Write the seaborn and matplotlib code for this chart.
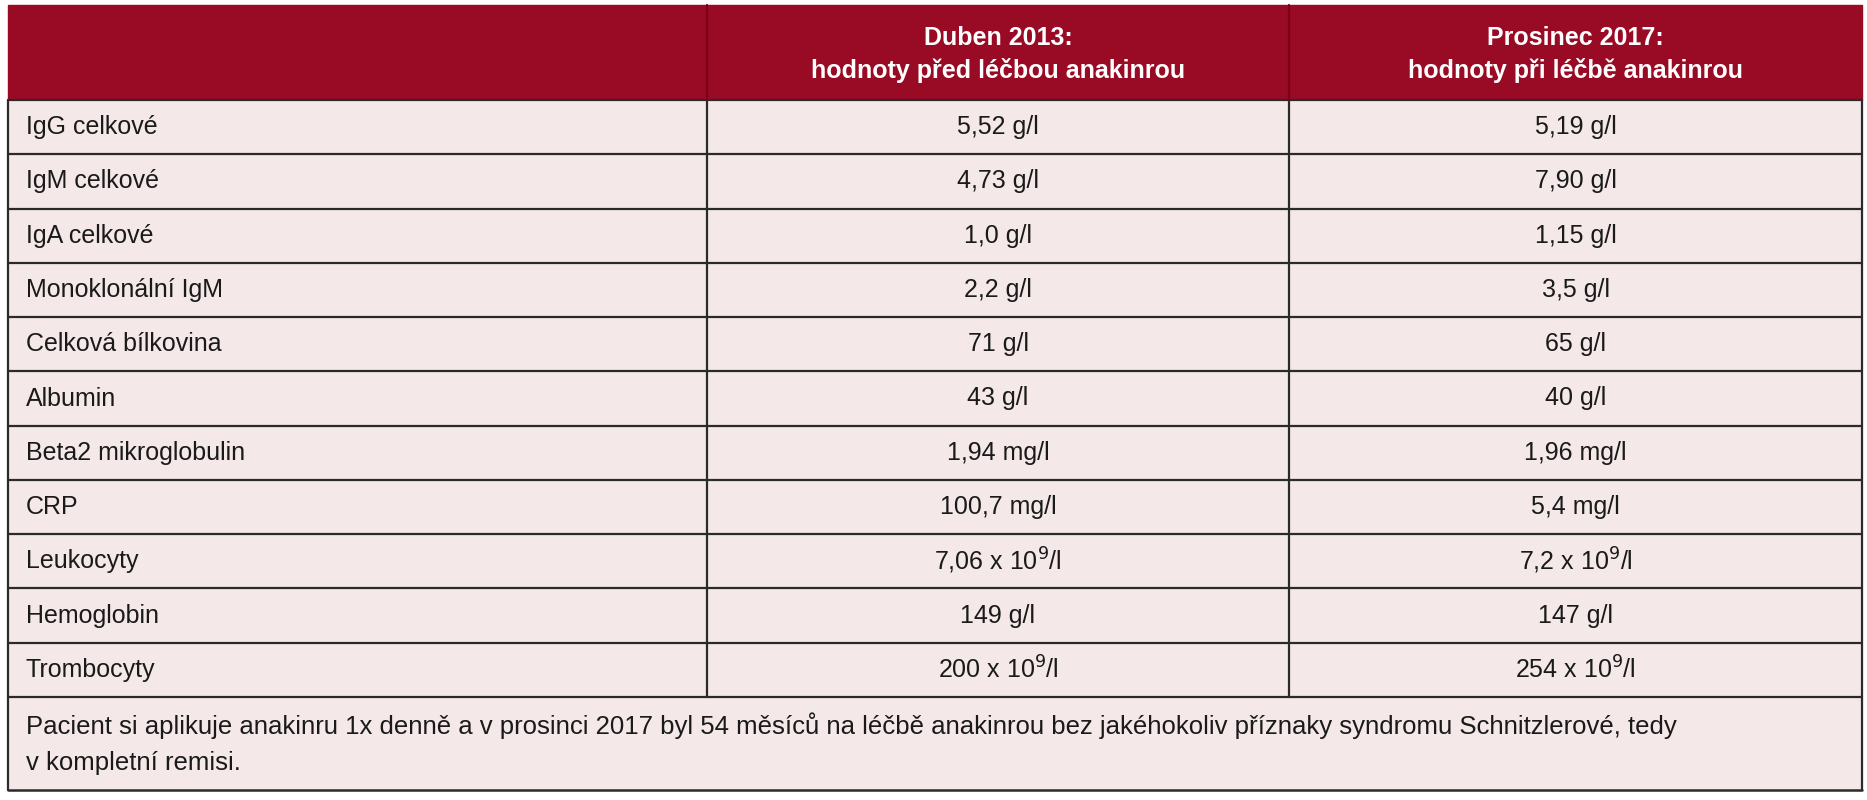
import matplotlib
matplotlib.use("Agg")
import matplotlib.pyplot as plt
import seaborn as sns
from matplotlib.patches import Rectangle

sns.set_theme(style="white")
plt.rcParams['font.family'] = ['Liberation Sans Narrow', 'Liberation Sans', 'DejaVu Sans']

headers = ["", "Duben 2013:\nhodnoty před léčbou anakinrou", "Prosinec 2017:\nhodnoty při léčbě anakinrou"]
parameters = ["IgG celkové", "IgM celkové", "IgA celkové", "Monoklonální IgM", "Celková bílkovina",
              "Albumin", "Beta2 mikroglobulin", "CRP", "Leukocyty", "Hemoglobin", "Trombocyty"]
values_2013 = ["5,52 g/l", "4,73 g/l", "1,0 g/l", "2,2 g/l", "71 g/l", "43 g/l", "1,94 mg/l",
               "100,7 mg/l", "7,06 x 10$^9$/l", "149 g/l", "200 x 10$^9$/l"]
values_2017 = ["5,19 g/l", "7,90 g/l", "1,15 g/l", "3,5 g/l", "65 g/l", "40 g/l", "1,96 mg/l",
               "5,4 mg/l", "7,2 x 10$^9$/l", "147 g/l", "254 x 10$^9$/l"]
footnote = ("Pacient si aplikuje anakinru 1x denně a v prosinci 2017 byl 54 měsíců na léčbě anakinrou bez jakéhokoliv příznaky syndromu Schnitzlerové, tedy\n"
            "v kompletní remisi.")

W, H = 1867, 800
fig = plt.figure(figsize=(W/100, H/100), dpi=100)
ax = fig.add_axes([0, 0, 1, 1])
ax.set_xlim(0, W); ax.set_ylim(H, 0); ax.axis("off")

x0, x1, x2, x3 = 8, 707, 1289, 1862
top, hb = 5, 100
rh = (697 - hb) / len(parameters)
bot = 790
red = "#990a24"; bg = "#f4e8e8"; lc = "#2a2a2a"

ax.add_patch(Rectangle((x0, top), x3-x0, hb-top, color=red, zorder=1))
ax.add_patch(Rectangle((x0, hb), x3-x0, bot-hb, color=bg, zorder=1))
for xc, h in zip([(x1+x2)/2, (x2+x3)/2], headers[1:]):
    ax.text(xc, (top+hb)/2 + 2, h, color="white", fontsize=18, fontweight="bold",
            ha="center", va="center", linespacing=1.4, zorder=3)
for i, (p, a, b) in enumerate(zip(parameters, values_2013, values_2017)):
    yc = hb + rh*(i+0.5)
    ax.text(x0+18, yc, p, fontsize=18, ha="left", va="center", color="#1a1a1a", zorder=3)
    ax.text((x1+x2)/2, yc, a, fontsize=18, ha="center", va="center", color="#1a1a1a", zorder=3)
    ax.text((x2+x3)/2, yc, b, fontsize=18, ha="center", va="center", color="#1a1a1a", zorder=3)
    ax.plot([x0, x3], [hb+rh*(i+1)]*2, color=lc, lw=1.6, zorder=2)
ax.text(x0+18, (hb+rh*11+bot)/2, footnote, fontsize=18.5, ha="left", va="center",
        color="#1a1a1a", linespacing=1.6, zorder=3)
ax.plot([x0, x3], [hb, hb], color=lc, lw=1.6, zorder=2)
ax.plot([x0, x3], [bot, bot], color=lc, lw=1.8, zorder=2)
ax.plot([x0, x0], [hb, bot], color=lc, lw=1.6, zorder=2)
ax.plot([x3, x3], [hb, bot], color=lc, lw=1.6, zorder=2)
for xv in (x1, x2):
    ax.plot([xv, xv], [hb, hb+rh*11], color=lc, lw=1.6, zorder=2)
    ax.plot([xv, xv], [top, hb], color="#7a0018", lw=1.6, zorder=2)

fig.savefig("out.png", dpi=100)
